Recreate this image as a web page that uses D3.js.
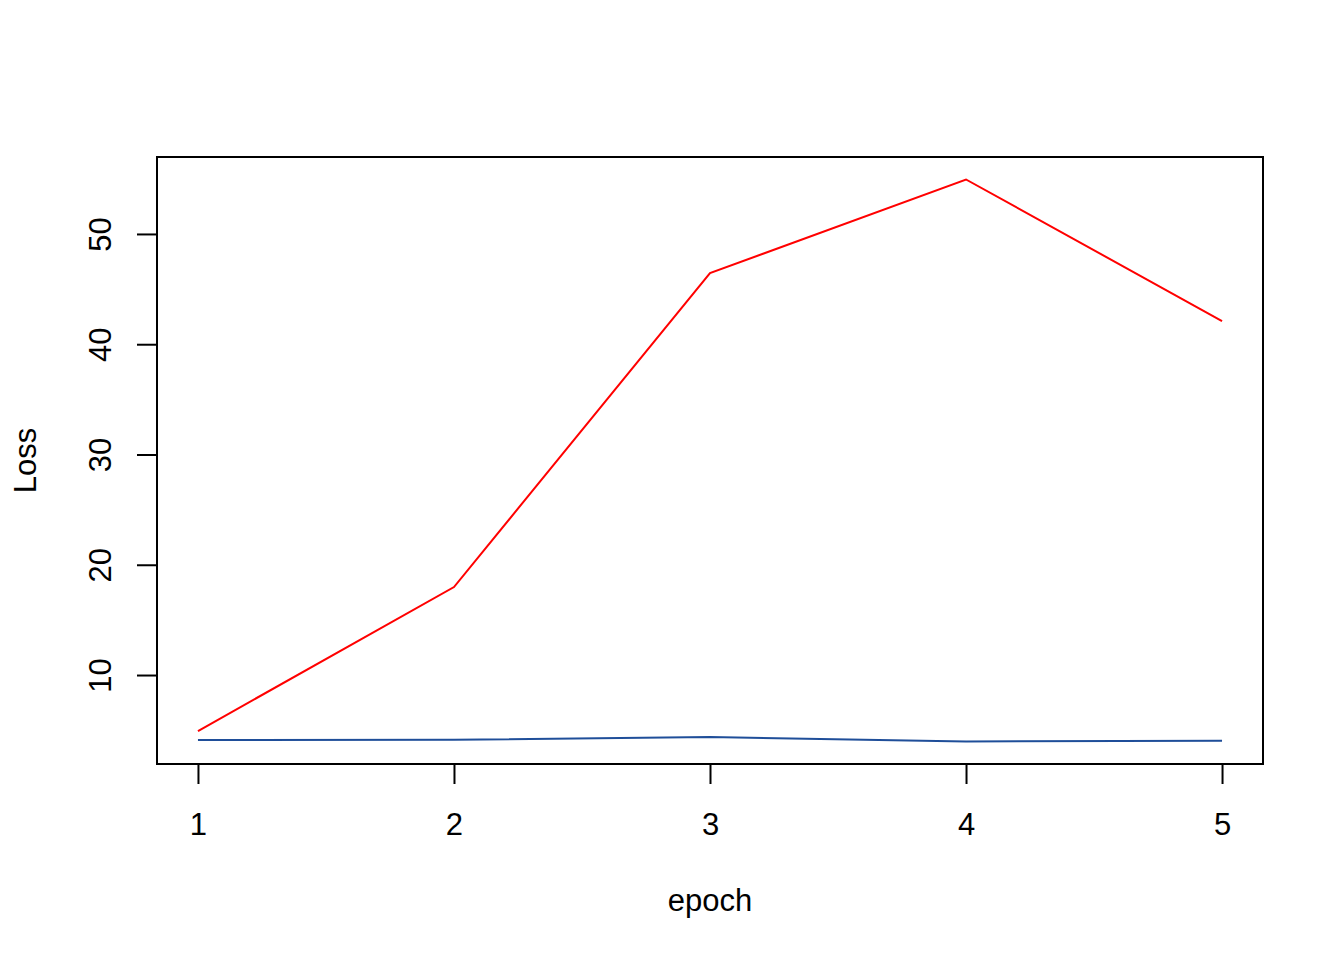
<!DOCTYPE html>
<html><head><meta charset="utf-8">
<script src="https://cdn.jsdelivr.net/npm/d3@7"></script>
<style>body{margin:0;background:#fff}text{font-family:"Liberation Sans",Arial,sans-serif;fill:#000}</style>
</head><body><svg id="c" width="1344" height="960"></svg>
<script>
const epochs = [1, 2, 3, 4, 5];
const redLoss = [4.92, 17.98, 46.45, 54.94, 42.1];
const blueLoss = [4.1, 4.12, 4.38, 3.97, 4.05];
const xTicks = [1, 2, 3, 4, 5];
const yTicks = [10, 20, 30, 40, 50];

const svg = d3.select("#c");
const L = 157, R = 1263, T = 157, B = 764;
const FS = 31;
const xr = d3.extent(epochs), xe = (xr[1]-xr[0])*0.04;
const all = redLoss.concat(blueLoss);
const yr = d3.extent(all), ye = (yr[1]-yr[0])*0.04;
const x = d3.scaleLinear().domain([xr[0]-xe, xr[1]+xe]).range([L, R]);
const y = d3.scaleLinear().domain([yr[0]-ye, yr[1]+ye]).range([B, T]);

const line = d3.line().x((d,i)=>x(epochs[i])).y(d=>y(d));
svg.append("path").datum(redLoss).attr("d", line).attr("fill","none").attr("stroke","#ff0000").attr("stroke-width",2);
svg.append("path").datum(blueLoss).attr("d", line).attr("fill","none").attr("stroke","#1f4e99").attr("stroke-width",2);

svg.append("rect").attr("x",L).attr("y",T).attr("width",R-L).attr("height",B-T).attr("fill","none").attr("stroke","#000").attr("stroke-width",2);

const xa = svg.append("g").attr("transform",`translate(0,${B})`)
  .call(d3.axisBottom(x).tickValues(xTicks).tickSize(20).tickFormat(d3.format("d")));
xa.select(".domain").attr("d",`M${x(xTicks[0])},0H${x(xTicks[xTicks.length-1])}`).attr("stroke-width",2);
xa.selectAll(".tick line").attr("stroke-width",2);
xa.selectAll("text").attr("font-size",FS).style("font-family","Liberation Sans, Arial, sans-serif")
  .attr("y",71).attr("dy",null);

const ya = svg.append("g").attr("transform",`translate(${L},0)`)
  .call(d3.axisLeft(y).tickValues(yTicks).tickSize(20).tickFormat(d3.format("d")));
ya.select(".domain").attr("d",`M0,${y(yTicks[0])}V${y(yTicks[yTicks.length-1])}`).attr("stroke-width",2);
ya.selectAll(".tick line").attr("stroke-width",2);
ya.selectAll("text").attr("font-size",FS).style("font-family","Liberation Sans, Arial, sans-serif")
  .attr("x",null).attr("dy",null).attr("text-anchor","middle")
  .attr("transform","translate(-46,0) rotate(-90)").attr("y",0);

svg.append("text").attr("x",(L+R)/2).attr("y",911).attr("text-anchor","middle").attr("font-size",FS).text("epoch");
svg.append("text").attr("transform",`translate(36,${(T+B)/2}) rotate(-90)`).attr("text-anchor","middle").attr("font-size",FS).text("Loss");
</script></body></html>
